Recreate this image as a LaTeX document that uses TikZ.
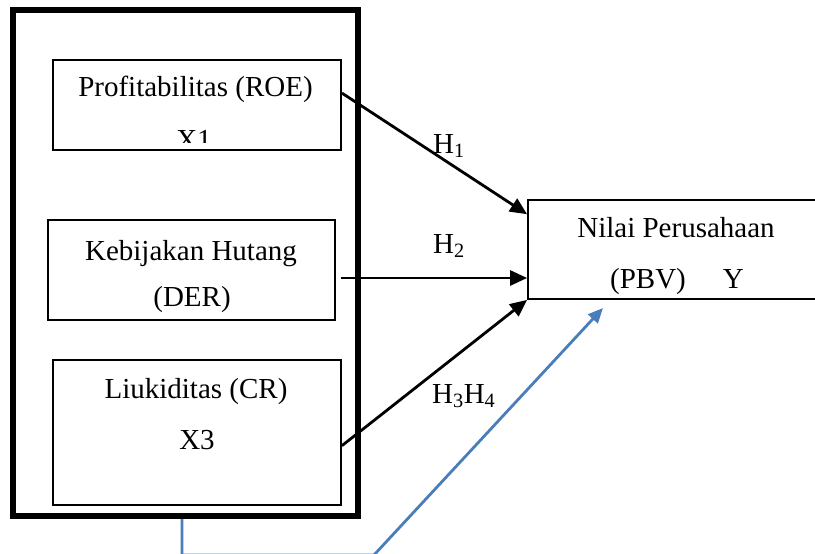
\documentclass[tikz,border=0pt]{standalone}
\usepackage{fontspec}
\setmainfont{Liberation Serif}
\usetikzlibrary{arrows.meta,calc}
\definecolor{linkblue}{RGB}{74,126,187}
\tikzset{
  varbox/.style={draw, line width=1.8pt, inner sep=0pt},
  lbl/.style={font=\fontsize{29}{34}\selectfont, inner sep=0pt, anchor=base},
  hyp/.style={line width=2.8pt, -{Triangle[length=17pt,width=15pt]}},
  modline/.style={linkblue, line width=2.8pt, -{Triangle[length=15pt,width=13pt]}},
}
\begin{document}
\begin{tikzpicture}[x=1pt,y=-1pt]
  \useasboundingbox (0,0) rectangle (815,554);
  \node[draw, line width=6pt, minimum width=345pt, minimum height=506pt, inner sep=0pt] (outer) at (185,263) {};
  \node[varbox, minimum width=288pt, minimum height=90pt] (prof) at (197,105) {};
  \node[varbox, minimum width=287pt, minimum height=100pt] (kebij) at (191.5,270) {};
  \node[varbox, minimum width=288pt, minimum height=145pt] (liuk) at (197,432.5) {};
  \node[varbox, minimum width=292pt, minimum height=99pt] (nilai) at (674,249.5) {};
  \node[lbl] (profa) at (195.5,96) {Profitabilitas (ROE)};
  \begin{scope}
    \clip (60,120) rectangle (330,142);
    \node[lbl] (profb) at (194,149) {X1};
  \end{scope}
  \node[lbl] (kebija) at (191,260) {Kebijakan Hutang};
  \node[lbl] (kebijb) at (192,306) {(DER)};
  \node[lbl] (liuka) at (196,398) {Liukiditas (CR)};
  \node[lbl] (liukb) at (197,449) {X3};
  \node[lbl] (nilaia) at (676,237) {Nilai Perusahaan};
  \node[lbl] (nilaib) at (677,288) {(PBV)\hspace{37pt}Y};
  \draw[hyp] ($(prof.north east)!0.37!(prof.south east)$) -- ($(nilai.north west)!0.15!(nilai.south west)$);
  \draw[hyp] ($(kebij.east)+(5,8)$) -- ($(nilai.west)+(0,28.5)$);
  \draw[hyp] ($(liuk.north east)!0.59!(liuk.south east)$) -- (nilai.south west);
  \node[lbl, anchor=base west] (hsatu) at (433,153) {H\textsubscript{1}};
  \node[lbl, anchor=base west] (hdua) at (433,253) {H\textsubscript{2}};
  \node[lbl, anchor=base west] (htiga) at (432,403) {H\textsubscript{3}H\textsubscript{4}};
  \coordinate (modend) at (603,308);
  \draw[modline] ($(outer.south)+(-3,0)$) -- ++(0,36) -- ++(192,0) -- (modend);
\end{tikzpicture}
\end{document}
